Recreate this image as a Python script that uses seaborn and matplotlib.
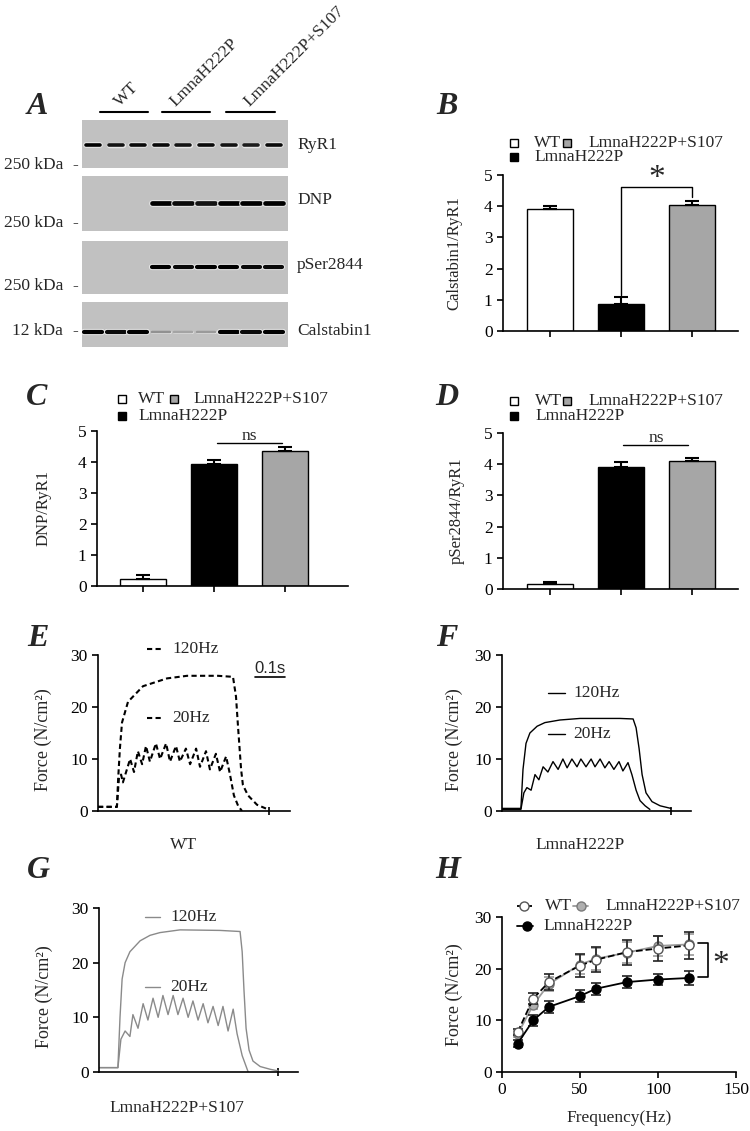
import numpy as np
import pandas as pd
import seaborn as sns
import matplotlib.pyplot as plt
from matplotlib.patches import Rectangle
from matplotlib.lines import Line2D

# ---------------- data ----------------
groups = ['WT', 'LmnaH222P', 'LmnaH222P+S107']
bar_colors = ['white', 'black', '#a6a6a6']

# western blot, relative band intensity per lane (0 = no band)
lanes = list(range(9))
blot_rows = ['RyR1', 'DNP', 'pSer2844', 'Calstabin1']
blot_markers = ['250 kDa', '250 kDa', '250 kDa', '12 kDa']
band_ryr1 = [1.0, 0.9, 0.95, 0.95, 0.9, 0.95, 0.9, 0.85, 0.95]
band_dnp = [0, 0, 0, 1.0, 0.95, 0.9, 1.0, 1.0, 1.0]
band_pser = [0, 0, 0, 1.0, 0.95, 1.0, 1.0, 0.95, 0.95]
band_calst = [1.0, 0.95, 1.0, 0.25, 0.15, 0.2, 1.0, 0.95, 1.0]

# B-D quantification (mean, SEM)
calst_mean = [3.92, 0.85, 4.03]
calst_sem = [0.10, 0.23, 0.14]
dnp_mean = [0.22, 3.95, 4.37]
dnp_sem = [0.15, 0.13, 0.11]
pser_mean = [0.17, 3.92, 4.10]
pser_sem = [0.06, 0.16, 0.10]

# E-G force traces (time in s, force in N/cm2)
e_t120 = [0, 0.063, 0.067, 0.073, 0.08, 0.1, 0.15, 0.23, 0.297, 0.4, 0.45, 0.46,
          0.467, 0.477, 0.483, 0.5, 0.53, 0.563]
e_f120 = [0.8, 0.8, 6, 12, 17, 21, 24, 25.5, 26, 26, 25.8, 22, 16, 8, 5, 3, 1.2, 0.4]
e_t20 = [0, 0.063, 0.07, 0.077, 0.083, 0.107, 0.12, 0.133, 0.147, 0.16, 0.173, 0.193,
         0.207, 0.227, 0.24, 0.26, 0.273, 0.293, 0.307, 0.327, 0.34, 0.36, 0.373,
         0.393, 0.407, 0.427, 0.44, 0.453, 0.467, 0.48]
e_f20 = [0.8, 0.8, 6.5, 7, 5.5, 10, 7.5, 11.5, 9, 12.5, 9.5, 13, 10, 13, 9.5, 12.5,
         9.5, 12, 9, 12, 8.5, 11.5, 8, 11, 7.5, 10.5, 7, 3, 1, 0]

f_t120 = [0, 0.063, 0.07, 0.08, 0.093, 0.117, 0.143, 0.193, 0.26, 0.393, 0.437, 0.447,
          0.457, 0.467, 0.48, 0.5, 0.527, 0.563]
f_f120 = [0.5, 0.5, 8, 13, 15, 16.3, 17, 17.5, 17.8, 17.8, 17.7, 16, 12, 7, 3.5, 1.8, 1, 0.5]
f_t20 = [0, 0.063, 0.073, 0.083, 0.097, 0.11, 0.123, 0.137, 0.153, 0.17, 0.187, 0.203,
         0.217, 0.233, 0.25, 0.263, 0.28, 0.297, 0.31, 0.327, 0.343, 0.357, 0.373,
         0.39, 0.403, 0.42, 0.433, 0.447, 0.46, 0.477, 0.493]
f_f20 = [0.3, 0.3, 3.5, 4.5, 4, 7, 6, 8.5, 7.5, 9.5, 8, 10, 8.3, 10, 8.5, 10, 8.5, 10,
         8.5, 10, 8.3, 9.5, 8, 9.5, 7.7, 9.3, 7, 4, 2, 1, 0.3]

g_t120 = [0, 0.063, 0.07, 0.077, 0.087, 0.103, 0.137, 0.17, 0.203, 0.27, 0.403, 0.47,
          0.477, 0.483, 0.49, 0.5, 0.513, 0.537, 0.57, 0.597]
g_f120 = [0.8, 0.8, 10, 17, 20, 22, 24, 25, 25.5, 26, 25.9, 25.7, 22, 15, 8, 4, 2, 1, 0.5, 0.2]
g_t20 = [0, 0.063, 0.073, 0.087, 0.103, 0.113, 0.13, 0.147, 0.163, 0.18, 0.197, 0.213,
         0.23, 0.247, 0.263, 0.28, 0.297, 0.313, 0.33, 0.347, 0.363, 0.38, 0.397, 0.413,
         0.43, 0.447, 0.46, 0.477, 0.497]
g_f20 = [0.8, 0.8, 6, 7.5, 6.5, 10.5, 8, 12.5, 9.5, 13.5, 10, 14, 10.5, 14, 10.5, 13.5,
         10, 13, 9.5, 12.5, 9, 12, 8.5, 12, 7.5, 11.5, 7, 3, 0]

# H force-frequency
freq = [10, 20, 30, 50, 60, 80, 100, 120]
wt_force = [7.7, 14.2, 17.4, 20.6, 21.7, 23.2, 23.9, 24.5]
wt_sem = [0.6, 1.0, 1.5, 2.3, 2.4, 2.4, 2.5, 2.6]
s107_force = [7.3, 13.0, 17.0, 20.8, 21.9, 23.1, 24.4, 24.7]
s107_sem = [0.6, 0.9, 1.3, 1.9, 2.1, 2.0, 2.0, 2.1]
lmna_force = [5.5, 10.0, 12.6, 14.7, 16.1, 17.4, 17.9, 18.2]
lmna_sem = [0.6, 1.0, 1.2, 1.2, 1.2, 1.1, 1.1, 1.3]

# ---------------- style ----------------
sns.set_theme(style='ticks')
plt.rcParams['font.family'] = ['Liberation Serif', 'DejaVu Serif']
plt.rcParams['axes.linewidth'] = 1.2
plt.rcParams['xtick.major.width'] = 1.2
plt.rcParams['ytick.major.width'] = 1.2
plt.rcParams['xtick.major.size'] = 4
plt.rcParams['ytick.major.size'] = 4
plt.rcParams['xtick.color'] = 'black'
plt.rcParams['ytick.color'] = 'black'
plt.rcParams['axes.edgecolor'] = 'black'

W, H = 750, 1131
fig = plt.figure(figsize=(7.5, 11.31), dpi=100)
FS = 12.5
GRAY_LINE = '#8a8a8a'


def rect(l, t, r, b):
    return [l / W, 1 - b / H, (r - l) / W, (b - t) / H]


def fx(x):
    return x / W


def fy(y):
    return 1 - y / H


def letter(ch, x, y):
    fig.text(fx(x), fy(y), ch, fontsize=23, fontweight='bold', style='italic',
             ha='center', va='center')


def clean(ax):
    sns.despine(ax=ax)
    ax.tick_params(labelsize=FS, colors='black')


# ---------------- A: blot ----------------
blot_boxes = [(82, 120, 288, 168), (82, 176, 288, 231), (82, 241, 288, 294), (82, 302, 288, 347)]
band_y = [0.48, 0.51, 0.51, 0.33]
band_hw = [0.31, 0.4, 0.38, 0.4]
band_lw = [2.6, 3.4, 3.0, 3.0]
label_y = [145, 200, 265, 331]
marker_y = [165, 223, 286, 331]
bg = np.array([0.757, 0.757, 0.757])
for k, bands in enumerate([band_ryr1, band_dnp, band_pser, band_calst]):
    ax = fig.add_axes(rect(*blot_boxes[k]))
    ax.set_facecolor('#c1c1c1')
    for s in ax.spines.values():
        s.set_visible(False)
    ax.set_xticks([])
    ax.set_yticks([])
    ax.set_xlim(-0.49, 8.63)
    ax.set_ylim(0, 1)
    for lane, inten in zip(lanes, bands):
        if inten <= 0:
            continue
        col = tuple(bg * (1 - inten))
        lw = band_lw[k] if inten > 0.5 else band_lw[k] * 0.6
        ax.hlines(band_y[k], lane - band_hw[k], lane + band_hw[k], color='#e6e6e6',
                  lw=lw + 1.5 * inten, capstyle='round')
        ax.hlines(band_y[k], lane - band_hw[k], lane + band_hw[k], color=col,
                  lw=lw, capstyle='round')
    fig.text(fx(297), fy(label_y[k]), blot_rows[k], fontsize=FS, ha='left', va='center')
    fig.text(fx(63), fy(marker_y[k]), blot_markers[k], fontsize=FS, ha='right', va='center')
    fig.text(fx(75), fy(marker_y[k]), '-', fontsize=FS, ha='center', va='center')

group_lines = [(100, 148), (162, 210), (226, 275)]
group_anchor = [(123, 110), (178, 110), (252, 110)]
for (x0, x1), (ax_, ay_), g in zip(group_lines, group_anchor, groups):
    fig.add_artist(Line2D([fx(x0), fx(x1)], [fy(112), fy(112)], color='black', lw=1.5))
    fig.text(fx(ax_), fy(ay_), g, fontsize=FS, rotation=45, rotation_mode='anchor',
             ha='left', va='bottom')
letter('A', 37, 107)


# ---------------- B-D: bars ----------------
def square_legend(entries):
    for x, y, c, lab in entries:
        fig.add_artist(Rectangle((fx(x), fy(y + 4)), 8 / W, 8 / H, transform=fig.transFigure,
                                 facecolor=bar_colors[groups.index(c)], edgecolor='black', lw=1))
        fig.text(fx(lab), fy(y), c, fontsize=FS, ha='left', va='center')


def bar_panel(box, mean, sem, ylabel, xlim, lab_x):
    ax = fig.add_axes(rect(*box))
    df = pd.DataFrame({'group': groups, 'value': mean})
    sns.barplot(data=df, x='group', y='value', hue='group', palette=bar_colors,
                order=groups, hue_order=groups, width=0.65, saturation=1,
                edgecolor='black', linewidth=1, legend=False, ax=ax)
    ax.errorbar(range(3), mean, yerr=[[0] * 3, sem], fmt='none', ecolor='black',
                elinewidth=1.5, capsize=5, capthick=1.5)
    ax.set_xlim(*xlim)
    ax.set_ylim(0, 5)
    ax.set_yticks(range(6))
    ax.set_xticks(range(3))
    ax.set_xticklabels([])
    ax.set_xlabel('')
    ax.set_ylabel(ylabel, fontsize=12)
    ax.yaxis.set_label_coords(lab_x, 0.5)
    clean(ax)
    return ax


axB = bar_panel((503, 175, 738, 331), calst_mean, calst_sem, 'Calstabin1/RyR1', (-0.66, 2.65), -0.174)
axB.plot([1, 1, 2, 2], [1.14, 4.6, 4.6, 4.3], color='black', lw=1, clip_on=False)
axB.text(1.5, 4.6, '*', fontsize=24, ha='center', va='baseline')
square_legend([(510, 143, 'WT', 534), (563, 143, 'LmnaH222P+S107', 588), (510, 157, 'LmnaH222P', 534)])
letter('B', 447, 107)

axC = bar_panel((97, 431, 348, 586), dnp_mean, dnp_sem, 'DNP/RyR1', (-0.65, 2.89), -0.183)
axC.plot([1.04, 1.96], [4.6, 4.6], color='black', lw=1)
axC.text(1.5, 4.71, 'ns', fontsize=FS, ha='center', va='baseline')
square_legend([(118, 399, 'WT', 138), (170, 399, 'LmnaH222P+S107', 193), (118, 416, 'LmnaH222P', 138)])
letter('C', 37, 398)

axD = bar_panel((503, 433, 738, 589), pser_mean, pser_sem, 'pSer2844/RyR1', (-0.66, 2.65), -0.162)
axD.plot([1.03, 1.94], [4.6, 4.6], color='black', lw=1)
axD.text(1.5, 4.71, 'ns', fontsize=FS, ha='center', va='baseline')
square_legend([(510, 401, 'WT', 535), (563, 401, 'LmnaH222P+S107', 588), (510, 416, 'LmnaH222P', 535)])
letter('D', 447, 398)


# ---------------- E-G: force traces ----------------
def trace_panel(box, t120, f120, t20, f20, xmax, end_tick, color, ls, lw, lab_x,
                leg_x, leg_y, xlabel, xlabel_pos):
    ax = fig.add_axes(rect(*box))
    sns.lineplot(x=t120, y=f120, color=color, lw=lw, linestyle=ls, sort=False,
                 estimator=None, ax=ax)
    sns.lineplot(x=t20, y=f20, color=color, lw=lw, linestyle=ls, sort=False,
                 estimator=None, ax=ax)
    ax.set_xlim(0, xmax)
    ax.set_ylim(0, 30)
    ax.set_yticks([0, 10, 20, 30])
    ax.set_xticks([end_tick])
    ax.set_xticklabels([])
    ax.tick_params(axis='x', direction='inout', length=6)
    ax.set_ylabel('Force (N/cm²)', fontsize=13)
    ax.yaxis.set_label_coords(lab_x, 0.46)
    clean(ax)
    x0, x1, xt = leg_x
    for yy, lab in zip(leg_y, ['120Hz', '20Hz']):
        fig.add_artist(Line2D([fx(x0), fx(x1)], [fy(yy), fy(yy)], color=color, lw=lw, linestyle=ls))
        fig.text(fx(xt), fy(yy), lab, fontsize=FS, ha='left', va='center')
    fig.text(fx(xlabel_pos[0]), fy(xlabel_pos[1]), xlabel, fontsize=FS, ha='center', va='center')
    return ax


axE = trace_panel((98, 655, 290, 811), e_t120, e_f120, e_t20, e_f20, 0.64, 0.57, 'black',
                  (0, (2.5, 1.6)), 1.5, -0.24, (147, 163, 172), (649, 718), 'WT', (183, 845))
axE.plot([0.523, 0.623], [25.7, 25.7], color='black', lw=1.2)
axE.text(0.573, 26.0, '0.1s', fontsize=12, family='Liberation Sans', ha='center', va='bottom')
letter('E', 38, 638)

trace_panel((502, 655, 691, 811), f_t120, f_f120, f_t20, f_f20, 0.63, 0.563, 'black',
            '-', 1.0, -0.206, (548, 565, 573), (693, 734), 'LmnaH222P', (580, 845))
letter('F', 447, 638)

trace_panel((99, 908, 298, 1072), g_t120, g_f120, g_t20, g_f20, 0.663, 0.597, GRAY_LINE,
            '-', 1.0, -0.231, (145, 160, 170), (917, 987), 'LmnaH222P+S107', (177, 1108))
letter('G', 38, 870)

# ---------------- H: force-frequency ----------------
axH = fig.add_axes(rect(502, 917, 736, 1072))
h_style = [
    (s107_force, s107_sem, '#9a9a9a', '-', '#b0b0b0', '#7a7a7a'),
    (wt_force, wt_sem, 'black', '--', 'white', '#555555'),
    (lmna_force, lmna_sem, 'black', '-', 'black', 'black'),
]
for vals, err, lc, ls, mfc, mec in h_style:
    axH.errorbar(freq, vals, yerr=err, fmt='none', ecolor=lc if lc != 'black' else '#222222',
                 elinewidth=1.2, capsize=3.5, capthick=1.2)
    sns.lineplot(x=freq, y=vals, color=lc, linestyle=ls, lw=1.3, marker='o', ms=6.5,
                 markerfacecolor=mfc, markeredgecolor=mec, markeredgewidth=1,
                 estimator=None, ax=axH)
axH.set_xlim(0, 150)
axH.set_ylim(0, 30)
axH.set_xticks([0, 50, 100, 150])
axH.set_yticks([0, 10, 20, 30])
axH.set_xlabel('Frequency(Hz)', fontsize=FS, labelpad=8)
axH.set_ylabel('Force (N/cm²)', fontsize=13)
axH.yaxis.set_label_coords(-0.167, 0.5)
clean(axH)
axH.plot([125.6, 132, 132, 125.6], [25.0, 25.0, 18.4, 18.4], color='black', lw=1.2, clip_on=False)
axH.text(140.4, 19.2, '*', fontsize=24, ha='center', va='baseline', clip_on=False)

h_leg = [
    (517, 532, 524, 906, 'WT', 545, 'black', '--', 'white', '#555555'),
    (573, 588, 581, 906, 'LmnaH222P+S107', 605, '#9a9a9a', '-', '#b0b0b0', '#7a7a7a'),
    (517, 533, 527, 926, 'LmnaH222P', 543, 'black', '-', 'black', 'black'),
]
for x0, x1, xm, yy, lab, xt, lc, ls, mfc, mec in h_leg:
    fig.add_artist(Line2D([fx(x0), fx(x1)], [fy(yy), fy(yy)], color=lc, lw=1.3, linestyle=ls))
    fig.add_artist(Line2D([fx(xm)], [fy(yy)], marker='o', ms=6.5, mfc=mfc, mec=mec, mew=1))
    fig.text(fx(xt), fy(yy), lab, fontsize=FS, ha='left', va='center')
letter('H', 448, 870)

fig.savefig('out.png', dpi=100)
